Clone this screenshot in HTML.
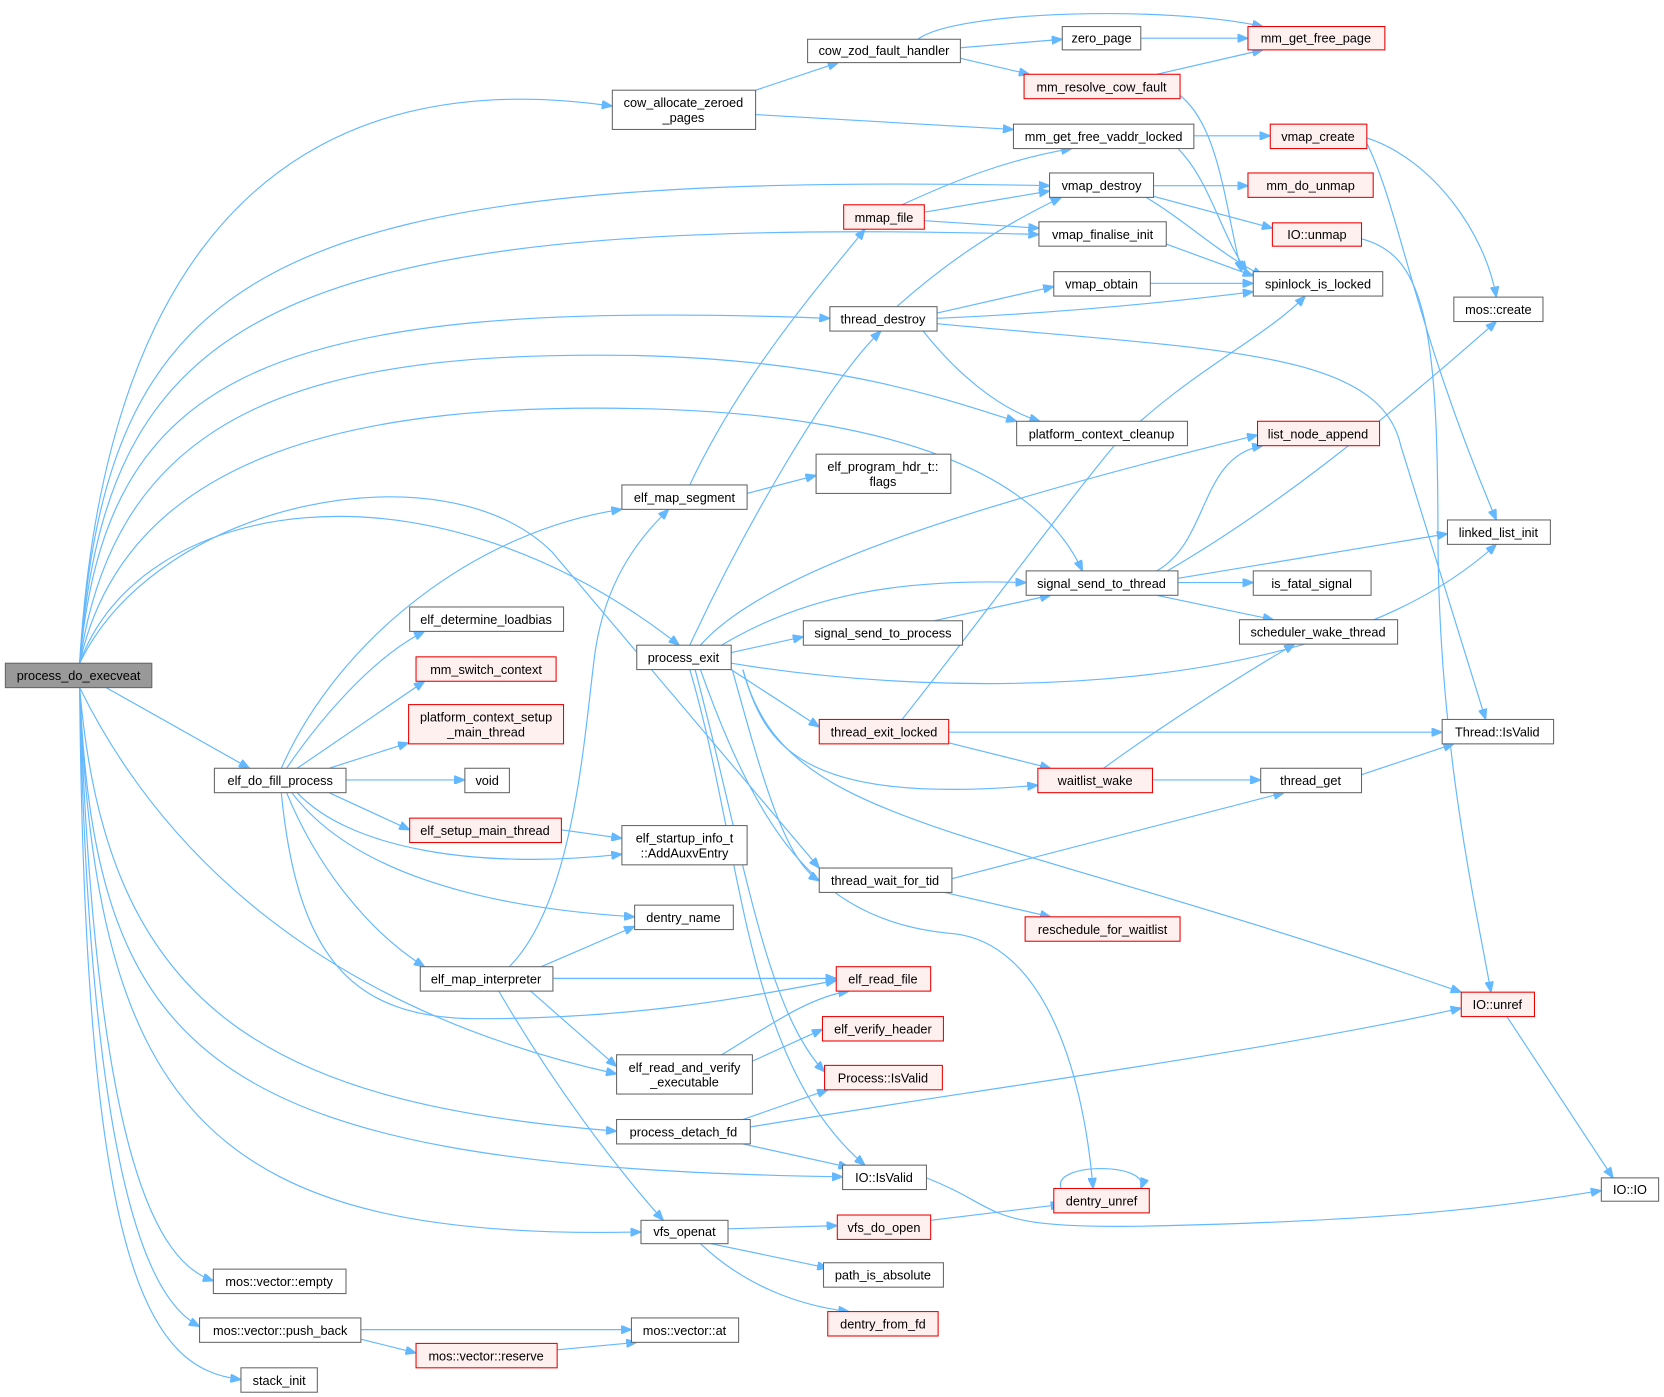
<!DOCTYPE html>
<html><head><meta charset="utf-8"><style>
html,body{margin:0;padding:0;background:#fff;}
svg{display:block;}
text{font-family:"Liberation Sans",sans-serif;font-size:12px;fill:#000;text-anchor:middle;}
.n{fill:#fff;stroke:#666;stroke-width:1;}
.r{fill:#fff0f0;stroke:#e00;stroke-width:1;}
path{fill:none;stroke:#63b8ff;stroke-width:1.1;}
</style></head><body>
<svg width="1664" height="1397" viewBox="0 0 1568 1316.5" xmlns="http://www.w3.org/2000/svg">
<defs><marker id="a" markerWidth="10" markerHeight="8" refX="10" refY="4" orient="auto" markerUnits="userSpaceOnUse"><path d="M0,0 L10,4 L0,8 z" style="fill:#63b8ff;stroke:#63b8ff"/></marker></defs>
<g marker-end="url(#a)">
<path d="M75,625 C100,200 300,60 577,100"/>
<path d="M75,625 C100,250 250,160 989,175"/>
<path d="M75,625 C100,300 250,200 979,221"/>
<path d="M75,625 C100,350 250,280 782,300"/>
<path d="M75,625 C110,380 300,330 600,335 C800,340 900,380 958,397"/>
<path d="M75,625 C120,420 350,380 600,385 C850,390 980,450 1020,538"/>
<path d="M75,625 C130,470 400,420 640,608"/>
<path d="M75,625 C150,470 420,420 520,520 L772,818"/>
<path d="M100,648 L235,724"/>
<path d="M75,648 C150,800 300,950 581,1012"/>
<path d="M75,648 C100,950 250,1040 581,1066"/>
<path d="M75,648 C90,1000 200,1100 794,1109"/>
<path d="M75,648 C90,1050 200,1170 604,1161"/>
<path d="M75,648 C90,1100 150,1190 201,1207"/>
<path d="M75,648 C85,1150 150,1230 188,1250"/>
<path d="M75,648 C80,1200 140,1290 227,1300"/>
<path d="M265,724 C320,600 450,500 586,480"/>
<path d="M270,724 C300,680 350,620 400,595"/>
<path d="M280,724 L400,642"/>
<path d="M310,724 L385,700"/>
<path d="M326,735 L438,735"/>
<path d="M310,747 L386,782"/>
<path d="M280,747 C330,800 450,820 586,805"/>
<path d="M275,747 C330,820 450,855 598,864"/>
<path d="M270,747 C300,820 350,880 400,911"/>
<path d="M265,747 C280,900 330,960 450,960 C600,960 700,940 788,924"/>
<path d="M480,911 C540,850 550,700 560,620 C570,540 610,500 630,480"/>
<path d="M510,911 L598,873"/>
<path d="M521,922 L788,922"/>
<path d="M500,934 L581,1005"/>
<path d="M470,934 C520,1020 580,1100 625,1150"/>
<path d="M529,782 L586,790"/>
<path d="M650,457 C700,350 780,260 815,216"/>
<path d="M704,465 L769,448"/>
<path d="M650,608 C700,500 780,360 830,312"/>
<path d="M660,608 C720,540 900,480 1185,410"/>
<path d="M680,608 C760,560 850,545 967,549"/>
<path d="M689,615 L757,600"/>
<path d="M689,625 C900,660 1250,660 1410,513"/>
<path d="M689,631 L772,685"/>
<path d="M700,631 C720,700 750,760 978,740"/>
<path d="M690,631 C720,740 740,810 772,830"/>
<path d="M700,631 C740,780 900,770 1377,935"/>
<path d="M660,631 C720,800 780,870 900,880 C980,890 1020,1000 1030,1120"/>
<path d="M655,631 C700,800 720,950 777,1010"/>
<path d="M650,631 C700,800 700,1000 815,1098"/>
<path d="M845,289 C900,240 950,210 1000,186"/>
<path d="M883,295 L993,270"/>
<path d="M883,300 C1000,295 1100,285 1181,275"/>
<path d="M870,312 C900,350 940,385 980,397"/>
<path d="M883,305 C1150,330 1300,330 1320,420 L1400,678"/>
<path d="M712,85 L790,59"/>
<path d="M712,108 L955,122"/>
<path d="M905,45 L1001,37"/>
<path d="M865,37 C900,10 1100,5 1190,25"/>
<path d="M905,55 L970,70"/>
<path d="M1075,36 L1176,36"/>
<path d="M1090,70 L1190,47"/>
<path d="M1112,90 C1150,120 1155,200 1170,256"/>
<path d="M1125,128 L1197,128"/>
<path d="M1110,140 C1140,170 1150,220 1175,256"/>
<path d="M1288,130 C1350,150 1400,220 1410,280"/>
<path d="M1288,135 C1320,200 1330,300 1410,490"/>
<path d="M1087,175 L1176,175"/>
<path d="M1087,185 L1199,215"/>
<path d="M1080,186 C1120,210 1150,240 1190,260"/>
<path d="M850,193 C900,170 950,150 1010,140"/>
<path d="M871,200 L989,180"/>
<path d="M871,208 L979,215"/>
<path d="M1099,230 L1181,260"/>
<path d="M1084,267 L1181,267"/>
<path d="M1283,225 C1340,240 1355,300 1355,500 C1355,700 1390,850 1405,935"/>
<path d="M1090,538 C1140,510 1130,430 1190,420"/>
<path d="M1100,538 C1200,480 1300,400 1410,303"/>
<path d="M1110,545 L1364,503"/>
<path d="M1110,549 L1181,549"/>
<path d="M1090,561 L1200,584"/>
<path d="M880,585 L990,561"/>
<path d="M850,678 C920,590 1000,480 1050,420 C1120,350 1190,320 1230,279"/>
<path d="M894,690 L1359,690"/>
<path d="M894,700 L990,724"/>
<path d="M1040,724 C1100,680 1180,630 1220,607"/>
<path d="M1086,735 L1188,735"/>
<path d="M1283,730 L1370,701"/>
<path d="M897,828 L1210,747"/>
<path d="M890,841 L990,864"/>
<path d="M680,994 C720,970 760,940 800,934"/>
<path d="M709,1000 L775,970"/>
<path d="M700,1055 L780,1027"/>
<path d="M707,1062 C900,1030 1200,990 1377,950"/>
<path d="M700,1078 L800,1100"/>
<path d="M873,1110 C950,1140 920,1160 1100,1155 C1300,1150 1400,1140 1509,1122"/>
<path d="M1420,958 L1520,1110"/>
<path d="M1000,1120 C990,1095 1085,1095 1075,1120"/>
<path d="M686,1158 L789,1155"/>
<path d="M670,1172 L780,1195"/>
<path d="M660,1172 C700,1210 750,1230 800,1236"/>
<path d="M877,1150 L1000,1135"/>
<path d="M340,1253 L595,1253"/>
<path d="M340,1262 L392,1275"/>
<path d="M525,1272 L600,1265"/>
</g>
<rect x="5" y="625" width="138" height="23" style="fill:#999;stroke:#666"/><text x="74" y="641">process_do_execveat</text>
<rect class="n" x="577" y="85" width="135" height="37"/><text x="644" y="101">cow_allocate_zeroed</text><text x="644" y="115">_pages</text>
<rect class="n" x="761" y="37" width="144" height="22"/><text x="833" y="52">cow_zod_fault_handler</text>
<rect class="n" x="1001" y="25" width="74" height="22"/><text x="1038" y="40">zero_page</text>
<rect class="r" x="1176" y="25" width="129" height="22"/><text x="1240" y="40">mm_get_free_page</text>
<rect class="r" x="965" y="70" width="147" height="23"/><text x="1038" y="86">mm_resolve_cow_fault</text>
<rect class="n" x="955" y="117" width="170" height="23"/><text x="1040" y="133">mm_get_free_vaddr_locked</text>
<rect class="r" x="1197" y="117" width="91" height="23"/><text x="1242" y="133">vmap_create</text>
<rect class="n" x="989" y="163" width="98" height="23"/><text x="1038" y="179">vmap_destroy</text>
<rect class="r" x="1176" y="163" width="118" height="23"/><text x="1235" y="179">mm_do_unmap</text>
<rect class="r" x="795" y="193" width="76" height="23"/><text x="833" y="209">mmap_file</text>
<rect class="r" x="1199" y="210" width="84" height="22"/><text x="1241" y="225">IO::unmap</text>
<rect class="n" x="979" y="209" width="120" height="23"/><text x="1039" y="225">vmap_finalise_init</text>
<rect class="n" x="1181" y="256" width="122" height="23"/><text x="1242" y="272">spinlock_is_locked</text>
<rect class="n" x="993" y="256" width="91" height="23"/><text x="1038" y="272">vmap_obtain</text>
<rect class="n" x="782" y="289" width="101" height="23"/><text x="832" y="305">thread_destroy</text>
<rect class="n" x="1370" y="280" width="84" height="23"/><text x="1412" y="296">mos::create</text>
<rect class="n" x="958" y="397" width="161" height="23"/><text x="1038" y="413">platform_context_cleanup</text>
<rect class="r" x="1185" y="397" width="115" height="23"/><text x="1242" y="413">list_node_append</text>
<rect class="n" x="586" y="457" width="118" height="23"/><text x="645" y="473">elf_map_segment</text>
<rect class="n" x="769" y="428" width="127" height="37"/><text x="832" y="444">elf_program_hdr_t::</text><text x="832" y="458">flags</text>
<rect class="n" x="1364" y="490" width="97" height="23"/><text x="1412" y="506">linked_list_init</text>
<rect class="n" x="967" y="538" width="143" height="23"/><text x="1038" y="554">signal_send_to_thread</text>
<rect class="n" x="1181" y="538" width="111" height="23"/><text x="1236" y="554">is_fatal_signal</text>
<rect class="n" x="386" y="572" width="145" height="23"/><text x="458" y="588">elf_determine_loadbias</text>
<rect class="n" x="757" y="585" width="150" height="23"/><text x="832" y="601">signal_send_to_process</text>
<rect class="n" x="1168" y="584" width="149" height="23"/><text x="1242" y="600">scheduler_wake_thread</text>
<rect class="n" x="600" y="608" width="89" height="23"/><text x="644" y="624">process_exit</text>
<rect class="r" x="392" y="619" width="132" height="23"/><text x="458" y="635">mm_switch_context</text>
<rect class="r" x="385" y="664" width="146" height="37"/><text x="458" y="680">platform_context_setup</text><text x="458" y="694">_main_thread</text>
<rect class="r" x="772" y="678" width="122" height="23"/><text x="833" y="694">thread_exit_locked</text>
<rect class="n" x="1359" y="678" width="105" height="23"/><text x="1411" y="694">Thread::IsValid</text>
<rect class="n" x="202" y="724" width="124" height="23"/><text x="264" y="740">elf_do_fill_process</text>
<rect class="n" x="438" y="724" width="42" height="23"/><text x="459" y="740">void</text>
<rect class="r" x="978" y="724" width="108" height="23"/><text x="1032" y="740">waitlist_wake</text>
<rect class="n" x="1188" y="724" width="95" height="23"/><text x="1235" y="740">thread_get</text>
<rect class="r" x="386" y="771" width="143" height="23"/><text x="457" y="787">elf_setup_main_thread</text>
<rect class="n" x="586" y="778" width="118" height="37"/><text x="645" y="794">elf_startup_info_t</text><text x="645" y="808">::AddAuxvEntry</text>
<rect class="n" x="772" y="818" width="125" height="23"/><text x="834" y="834">thread_wait_for_tid</text>
<rect class="n" x="598" y="853" width="93" height="23"/><text x="644" y="869">dentry_name</text>
<rect class="r" x="966" y="864" width="146" height="23"/><text x="1039" y="880">reschedule_for_waitlist</text>
<rect class="n" x="396" y="911" width="125" height="23"/><text x="458" y="927">elf_map_interpreter</text>
<rect class="r" x="788" y="911" width="89" height="23"/><text x="832" y="927">elf_read_file</text>
<rect class="r" x="1377" y="935" width="69" height="23"/><text x="1411" y="951">IO::unref</text>
<rect class="r" x="775" y="958" width="114" height="23"/><text x="832" y="974">elf_verify_header</text>
<rect class="n" x="581" y="994" width="128" height="37"/><text x="645" y="1010">elf_read_and_verify</text><text x="645" y="1024">_executable</text>
<rect class="r" x="777" y="1004" width="111" height="23"/><text x="832" y="1020">Process::IsValid</text>
<rect class="n" x="581" y="1055" width="126" height="23"/><text x="644" y="1071">process_detach_fd</text>
<rect class="n" x="794" y="1098" width="79" height="23"/><text x="833" y="1114">IO::IsValid</text>
<rect class="r" x="993" y="1120" width="90" height="23"/><text x="1038" y="1136">dentry_unref</text>
<rect class="n" x="1509" y="1110" width="54" height="22"/><text x="1536" y="1125">IO::IO</text>
<rect class="n" x="604" y="1150" width="82" height="22"/><text x="645" y="1165">vfs_openat</text>
<rect class="r" x="789" y="1145" width="88" height="23"/><text x="833" y="1161">vfs_do_open</text>
<rect class="n" x="776" y="1190" width="113" height="23"/><text x="832" y="1206">path_is_absolute</text>
<rect class="n" x="201" y="1196" width="125" height="23"/><text x="263" y="1212">mos::vector::empty</text>
<rect class="r" x="780" y="1236" width="104" height="23"/><text x="832" y="1252">dentry_from_fd</text>
<rect class="n" x="188" y="1242" width="152" height="23"/><text x="264" y="1258">mos::vector::push_back</text>
<rect class="n" x="595" y="1242" width="101" height="23"/><text x="645" y="1258">mos::vector::at</text>
<rect class="r" x="392" y="1266" width="133" height="23"/><text x="458" y="1282">mos::vector::reserve</text>
<rect class="n" x="227" y="1289" width="72" height="23"/><text x="263" y="1305">stack_init</text>
</svg>
</body></html>
